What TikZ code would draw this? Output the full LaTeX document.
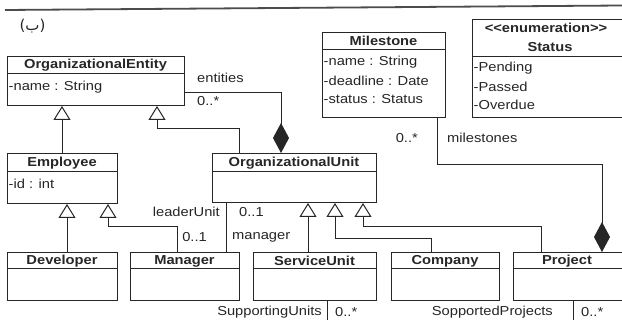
\documentclass[tikz,border=0pt]{standalone}
\usepackage{fontspec}
\setmainfont{Liberation Sans}[FakeStretch=1.13]
\newfontfamily\arabicfont[Script=Arabic]{DejaVu Sans}
\TeXXeTstate=1
\usetikzlibrary{arrows.meta}

\definecolor{ink}{HTML}{262626}

\tikzset{
  every node/.style={font=\fontsize{13}{15}\selectfont, text=ink, inner sep=0pt},
  cls/.style={draw=ink, line width=1pt, anchor=north west, fill=white},
  sepline/.style={draw=ink, line width=1pt},
  ctitle/.style={font=\fontsize{13}{15}\selectfont\bfseries},
  attr/.style={anchor=west},
  lbl/.style={},
  conn/.style={draw=ink, line width=1pt},
  gen/.style={conn, -{Triangle[open, fill=white, width=17pt, length=14pt]}},
  comp/.style={conn, {Diamond[fill=ink, width=16pt, length=30pt]}-},
}

\begin{document}
\begin{tikzpicture}[x=1pt, y=-1pt]
  \useasboundingbox (0,0) rectangle (622,320);
  \clip (0,0) rectangle (622,320);
  \fill[white] (0,0) rectangle (622,320);

  % heading rule and figure mark
  \draw[gray!60!black, line width=1.8pt] (5,10) -- (622,5.5);
  \node[font=\fontsize{15}{18}\selectfont, anchor=base] (mark) at (32.5,30.5) {\arabicfont\beginR(ب)\endR};

  % ---------- classes ----------
  % OrganizationalEntity
  \node[cls, minimum width=177pt, minimum height=49pt] (oe) at (7,56) {};
  \draw[sepline] (oe.west |- 0,74) -- (oe.east |- 0,74);
  \node[ctitle] (oe-t) at (95.5,65.5) {OrganizationalEntity};
  \node[attr] (oe-a) at (8.5,87) {-name : String};

  % Employee
  \node[cls, minimum width=110pt, minimum height=50pt] (emp) at (7,153) {};
  \draw[sepline] (emp.west |- 0,172) -- (emp.east |- 0,172);
  \node[ctitle] (emp-t) at (62,163) {Employee};
  \node[attr] (emp-a) at (8.5,184) {-id : int};

  % OrganizationalUnit
  \node[cls, minimum width=164pt, minimum height=49pt] (ou) at (212,153) {};
  \draw[sepline] (ou.west |- 0,172) -- (ou.east |- 0,172);
  \node[ctitle] (ou-t) at (294,163) {OrganizationalUnit};

  % Developer
  \node[cls, minimum width=110pt, minimum height=48pt] (dev) at (7,252) {};
  \draw[sepline] (dev.west |- 0,269) -- (dev.east |- 0,269);
  \node[ctitle] (dev-t) at (62,261) {Developer};

  % Manager
  \node[cls, minimum width=109pt, minimum height=48pt] (mgr) at (130,252) {};
  \draw[sepline] (mgr.west |- 0,269) -- (mgr.east |- 0,269);
  \node[ctitle] (mgr-t) at (184.5,261) {Manager};

  % ServiceUnit
  \node[cls, minimum width=123pt, minimum height=48pt] (su) at (253,252) {};
  \draw[sepline] (su.west |- 0,269) -- (su.east |- 0,269);
  \node[ctitle] (su-t) at (314.5,261) {ServiceUnit};

  % Company
  \node[cls, minimum width=108pt, minimum height=48pt] (co) at (391,252) {};
  \draw[sepline] (co.west |- 0,269) -- (co.east |- 0,269);
  \node[ctitle] (co-t) at (445,261) {Company};

  % Project
  \node[cls, minimum width=110pt, minimum height=48pt] (pr) at (513,252) {};
  \draw[sepline] (pr.west |- 0,269) -- (pr.east |- 0,269);
  \node[ctitle] (pr-t) at (567,261) {Project};

  % Milestone
  \node[cls, minimum width=123pt, minimum height=85pt] (ms) at (322,32) {};
  \draw[sepline] (ms.west |- 0,50) -- (ms.east |- 0,50);
  \node[ctitle] (ms-t) at (383.5,41) {Milestone};
  \node[attr] (ms-a1) at (323.5,62) {-name : String};
  \node[attr] (ms-a2) at (323.5,80.5) {-deadline : Date};
  \node[attr] (ms-a3) at (323.5,99) {-status : Status};

  % Status enumeration
  \node[cls, minimum width=152pt, minimum height=98pt] (st) at (472,19) {};
  \draw[sepline] (st.west |- 0,57) -- (st.east |- 0,57);
  \node[ctitle] (st-s) at (546,28) {{<}{<}enumeration{>}{>}};
  \node[ctitle] (st-t) at (550,47) {Status};
  \node[attr] (st-a1) at (473.5,68) {-Pending};
  \node[attr] (st-a2) at (473.5,86.5) {-Passed};
  \node[attr] (st-a3) at (473.5,105) {-Overdue};

  % ---------- generalizations ----------
  \draw[gen] (emp.north -| 62,0) -- (oe.south -| 62,0);
  \draw[gen] (ou.north -| 239,0) -- (239,129) -| (oe.south -| 157,0);
  \draw[gen] (dev.north -| 67,0) -- (emp.south -| 67,0);
  \draw[gen] (mgr.north -| 177,0) -- (177,227) -| (emp.south -| 108,0);
  \draw[gen] (su.north -| 308,0) -- (ou.south -| 308,0);
  \draw[gen] (co.north -| 431,0) -- (431,239) -| (ou.south -| 335,0);
  \draw[gen] (pr.north -| 541,0) -- (541,227) -| (ou.south -| 363,0);

  % ---------- compositions ----------
  \draw[comp] (ou.north -| 281,0) |- (oe.east |- 0,93);
  \node[lbl, anchor=west] (l-ent) at (197,78) {entities};
  \node[lbl, anchor=west] (l-entm) at (197,101) {0..*};

  \draw[comp] (pr.north -| 602,0) -- (602,165) -| (ms.south -| 437,0);
  \node[lbl, anchor=east] (l-msm) at (418,138) {0..*};
  \node[lbl, anchor=west] (l-ms) at (447,138) {milestones};

  % ---------- associations ----------
  \draw[conn] (ou.south -| 226,0) -- (mgr.north -| 226,0);
  \node[lbl, anchor=east] (l-lu) at (220,212) {leaderUnit};
  \node[lbl, anchor=west] (l-lum) at (239,212) {0..1};
  \node[lbl, anchor=east] (l-mm) at (207,237) {0..1};
  \node[lbl, anchor=west] (l-mg) at (232,237) {manager};

  \coordinate (su-end) at (327,325);
  \draw[conn] (su.south -| su-end) -- (su-end);
  \node[lbl, anchor=east] (l-su) at (322,312) {SupportingUnits};
  \node[lbl, anchor=west] (l-sum) at (335,312) {0..*};

  \coordinate (pr-end) at (573,325);
  \draw[conn] (pr.south -| pr-end) -- (pr-end);
  \node[lbl, anchor=east] (l-sp) at (553,312) {SopportedProjects};
  \node[lbl, anchor=west] (l-spm) at (581,312) {0..*};
\end{tikzpicture}
\end{document}
